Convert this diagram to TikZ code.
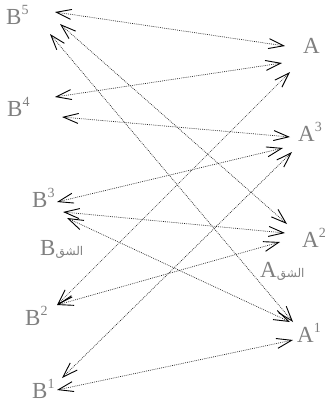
\documentclass[tikz,border=0pt]{standalone}
\usepackage{fontspec}
\setmainfont{Liberation Serif}
\newfontfamily\arabicfont[Script=Arabic]{DejaVu Sans}
\TeXXeTstate=1
\usetikzlibrary{arrows.meta}
\newcommand\supx[1]{\raisebox{0.42em}{\fontsize{14}{14}\selectfont #1}}
\newcommand\arsub{{\arabicfont\fontsize{12}{12}\selectfont\beginR الشق\endR}}
\begin{document}
\begin{tikzpicture}[x=1pt,y=-1pt,
  lbl/.style={anchor=base west,inner sep=0pt,text=black!50,font=\fontsize{23}{23}\selectfont},
  link/.style={draw=black!85,line width=0.7pt,dash pattern=on 0.8pt off 1.1pt,
    {Straight Barb[length=15pt,width=10pt,line width=0.9pt,color=black]}-{Straight Barb[length=15pt,width=10pt,line width=0.9pt,color=black]}}]
\useasboundingbox (0,0) rectangle (325,402);
% labels
\node[lbl] (B5) at (6,24) {B\supx{5}};
\node[lbl] (B4) at (7,116) {B\supx{4}};
\node[lbl] (B3) at (32,207) {B\supx{3}};
\node[lbl] (Bs) at (40,255) {B\arsub};
\node[lbl] (B2) at (25,325) {B\supx{2}};
\node[lbl] (B1) at (32,398) {B\supx{1}};
\node[lbl] (A) at (303,53) {A};
\node[lbl] (A3) at (298,141) {A\supx{3}};
\node[lbl] (A2) at (302,247) {A\supx{2}};
\node[lbl] (As) at (260,277) {A\arsub};
\node[lbl] (A1) at (297,342) {A\supx{1}};
% arrow end points
\coordinate (b5a) at (55,12);
\coordinate (b5b) at (60,24);
\coordinate (b5c) at (50,34);
\coordinate (b4a) at (55,97);
\coordinate (b4b) at (62,117);
\coordinate (b3a) at (57,202);
\coordinate (b3b) at (63,212);
\coordinate (b3c) at (67,218);
\coordinate (b2) at (57,305);
\coordinate (b1a) at (62,378);
\coordinate (b1b) at (57,390);
\coordinate (aa) at (285,46);
\coordinate (ab) at (282,63);
\coordinate (ac) at (290,72);
\coordinate (a3a) at (290,137);
\coordinate (a3b) at (283,148);
\coordinate (a3c) at (292,152);
\coordinate (a2a) at (287,224);
\coordinate (a2b) at (285,233);
\coordinate (a2c) at (280,242);
\coordinate (a1a) at (293,322);
\coordinate (a1b) at (290,322);
\coordinate (a1c) at (293,340);
% connectors
\draw[link] (b5a) -- (aa);
\draw[link] (b5b) -- (a2a);
\draw[link] (b5c) -- (a1a);
\draw[link] (b4a) -- (ab);
\draw[link] (b4b) -- (a3a);
\draw[link] (b3a) -- (a3b);
\draw[link] (b3b) -- (a2b);
\draw[link] (b3c) -- (a1b);
\draw[link] (b2) -- (ac);
\draw[link] (b2) -- (a2c);
\draw[link] (b1a) -- (a3c);
\draw[link] (b1b) -- (a1c);
\end{tikzpicture}
\end{document}
